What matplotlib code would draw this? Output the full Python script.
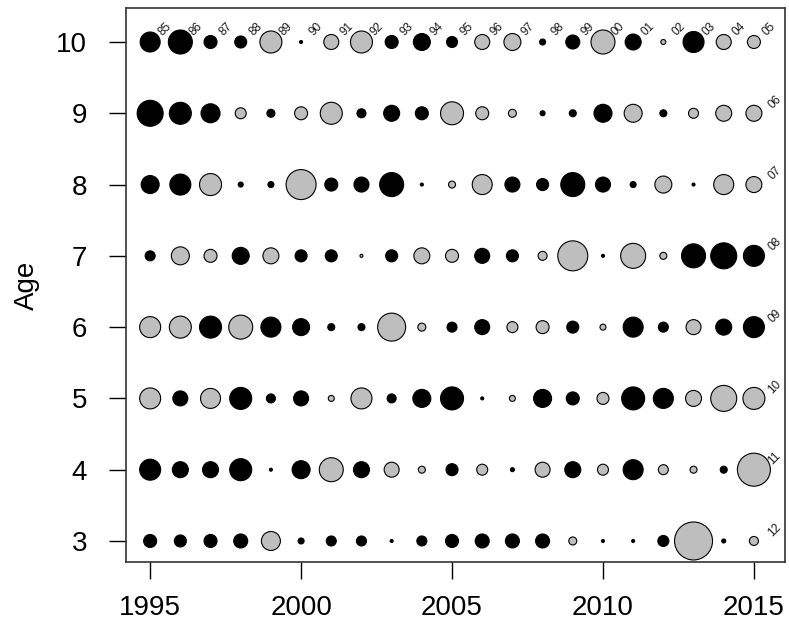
import numpy as np
import matplotlib
matplotlib.use("Agg")
import matplotlib.pyplot as plt

plt.rcParams['font.family'] = ['Liberation Sans', 'DejaVu Sans']

years = list(range(1995, 2016))
ages = [10, 9, 8, 7, 6, 5, 4, 3]

# signed residuals per age (positive = black, negative = grey)
res_age10 = [2.0, 2.4, 1.3, 1.2, -2.2, 0.3, -1.5, -2.2, 1.3, 1.7, 1.1, -1.5, -1.7, 0.6, 1.4, -2.4, 1.6, -0.5, 2.1, -1.5, -1.3]
res_age9 = [2.6, 2.2, 1.9, -1.1, 0.8, -1.3, -2.2, 0.9, 1.6, 1.3, -2.3, -1.3, -0.8, 0.5, 0.7, 1.8, -1.8, 0.7, -1.0, -1.6, -1.6]
res_age8 = [1.8, 2.1, -2.2, 0.5, 0.6, -3.0, 1.3, 1.5, 2.4, 0.3, -0.7, -2.0, 1.5, 1.2, 2.4, 1.5, 0.6, -1.7, 0.3, -2.0, -1.6]
res_age7 = [1.0, -1.8, -1.3, 1.7, -1.6, 1.2, 1.2, -0.3, 1.2, -1.6, -1.3, 1.5, 1.2, -0.9, -3.0, 0.3, -2.5, -0.7, 2.4, 2.6, 2.1]
res_age6 = [-2.1, -2.2, 2.2, -2.4, 2.0, 1.7, 0.7, 0.7, -2.8, -0.8, 1.0, 1.5, -1.1, -1.3, 1.2, -0.6, 2.0, 1.0, -1.5, 1.6, 2.1]
res_age5 = [-2.1, 1.5, -2.0, 2.2, 0.9, 1.5, -0.6, -2.1, 0.9, 1.8, 2.3, 0.3, -0.6, 1.8, 1.3, -1.2, 2.3, 2.0, -1.6, -2.6, -2.2]
res_age4 = [2.1, 1.6, 1.6, 2.2, 0.3, 1.8, -2.4, 1.6, -1.5, -0.7, 1.2, -1.1, 0.4, -1.5, 1.6, -1.1, 2.0, -1.0, -0.7, 0.7, -3.3]
res_age3 = [1.3, 1.2, 1.3, 1.4, -1.9, 0.6, 1.0, 1.0, 0.3, 1.0, 1.3, 1.4, 1.4, 1.4, -0.8, 0.3, 0.3, 1.1, -3.8, 0.4, -0.9]

resid = [res_age10, res_age9, res_age8, res_age7, res_age6, res_age5, res_age4, res_age3]

fig = plt.figure(figsize=(7.89, 6.32), dpi=100)
ax = fig.add_axes([126/789, 70/632, 659/789, 554/632])

for age, row in zip(ages, resid):
    r = np.array(row)
    d = np.abs(r) * 10 * 0.72  # diameter in points
    cols = np.where(r > 0, 'black', '#bebebe')
    ax.scatter(years, [age]*len(years), s=d**2, c=cols, edgecolors='black',
               linewidths=0.8, zorder=3)

# cohort labels: top row and right column
for y in years:
    ax.annotate("%02d" % ((y - 10) % 100), (y, 10), xytext=(11, 9),
                textcoords='offset points', rotation=45, fontsize=8.5,
                ha='center', va='center', color='#1a1a1a')
for a in ages[1:]:
    ax.annotate("%02d" % ((2015 - a) % 100), (2015, a), xytext=(15, 8),
                textcoords='offset points', rotation=45, fontsize=8.5,
                ha='center', va='center', color='#1a1a1a')

ax.set_xlim(1994.2, 2016.03)
ax.set_ylim(2.705, 10.477)
ax.set_xticks([1995, 2000, 2005, 2010, 2015])
ax.set_yticks(ages)
ax.tick_params(labelsize=20, length=12, width=1, direction='out')
ax.tick_params(axis='x', pad=12)
ax.tick_params(axis='y', pad=16)
ax.set_ylabel("Age", fontsize=20, labelpad=12)
for s in ax.spines.values():
    s.set_linewidth(1.2)
    s.set_color('#333333')

fig.savefig("out.png", dpi=100)
